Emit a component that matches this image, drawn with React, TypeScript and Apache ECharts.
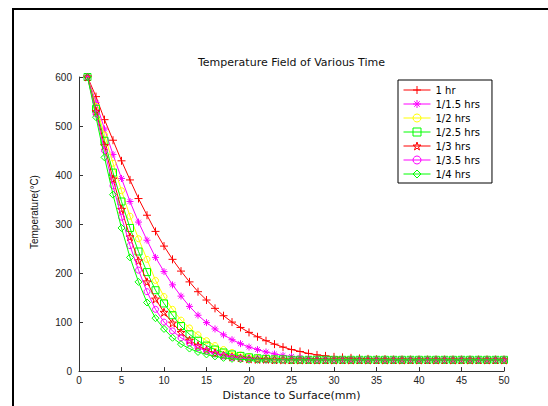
import React, { useEffect, useRef } from 'react';
import * as echarts from 'echarts';

const distance = [
  1, 2, 3, 4, 5, 6, 7, 8, 9, 10,
  11, 12, 13, 14, 15, 16, 17, 18, 19, 20,
  21, 22, 23, 24, 25, 26, 27, 28, 29, 30,
  31, 32, 33, 34, 35, 36, 37, 38, 39, 40,
  41, 42, 43, 44, 45, 46, 47, 48, 49, 50,
];

const seriesNames = ['1 hr', '1/1.5 hrs', '1/2 hrs', '1/2.5 hrs', '1/3 hrs', '1/3.5 hrs', '1/4 hrs'];

const temp1hr = [
  600, 560, 513, 471, 429, 390, 352, 318, 285, 255,
  228, 204, 182, 162, 145, 128, 113, 100, 89, 79,
  70, 62, 55, 49, 44, 40, 36, 33, 31, 29,
  28, 27, 26, 25, 24, 24, 23, 23, 23, 23,
  23, 23, 23, 23, 23, 23, 23, 23, 23, 23,
];
const temp1_5hr = [
  600, 548, 494, 442, 393, 346, 304, 267, 232, 203,
  176, 153, 132, 114, 99, 86, 74, 64, 56, 49,
  44, 39, 35, 32, 30, 28, 26, 25, 24, 24,
  23, 23, 23, 23, 23, 23, 23, 23, 23, 23,
  23, 23, 23, 23, 23, 23, 23, 23, 23, 23,
];
const temp2hr = [
  600, 540, 482, 424, 368, 316, 270, 228, 185, 152,
  126, 104, 88, 74, 62, 52, 44, 38, 33, 30,
  28, 26, 25, 24, 23, 23, 23, 23, 23, 23,
  23, 23, 23, 23, 23, 23, 23, 23, 23, 23,
  23, 23, 23, 23, 23, 23, 23, 23, 23, 23,
];
const temp2_5hr = [
  600, 535, 470, 405, 346, 292, 244, 202, 165, 138,
  114, 92, 75, 62, 52, 44, 38, 34, 31, 28,
  26, 25, 24, 24, 23, 23, 23, 23, 23, 23,
  23, 23, 23, 23, 23, 23, 23, 23, 23, 23,
  23, 23, 23, 23, 23, 23, 23, 23, 23, 23,
];
const temp3hr = [
  600, 530, 460, 392, 330, 274, 225, 182, 147, 120,
  98, 79, 63, 52, 43, 37, 32, 29, 27, 25,
  24, 24, 23, 23, 23, 23, 23, 23, 23, 23,
  23, 23, 23, 23, 23, 23, 23, 23, 23, 23,
  23, 23, 23, 23, 23, 23, 23, 23, 23, 23,
];
const temp3_5hr = [
  600, 525, 450, 378, 314, 256, 206, 162, 126, 100,
  82, 68, 57, 48, 41, 35, 31, 28, 26, 25,
  24, 23, 23, 23, 23, 23, 23, 23, 23, 23,
  23, 23, 23, 23, 23, 23, 23, 23, 23, 23,
  23, 23, 23, 23, 23, 23, 23, 23, 23, 23,
];
const temp4hr = [
  600, 518, 436, 360, 292, 232, 182, 140, 108, 86,
  68, 55, 46, 39, 34, 30, 27, 25, 24, 23,
  23, 23, 23, 23, 23, 23, 23, 23, 23, 23,
  23, 23, 23, 23, 23, 23, 23, 23, 23, 23,
  23, 23, 23, 23, 23, 23, 23, 23, 23, 23,
];

const allTemps = [temp1hr, temp1_5hr, temp2hr, temp2_5hr, temp3hr, temp3_5hr, temp4hr];

const PLUS = 'path://M0,5L10,5M5,0L5,10';
const ASTER = 'path://M0,5L10,5M5,0L5,10M1.6,1.6L8.4,8.4M8.4,1.6L1.6,8.4';
const STAR =
  'path://M5,0L6.123,3.455L9.755,3.455L6.816,5.59L7.939,9.045L5,6.91L2.061,9.045L3.184,5.59L0.245,3.455L3.877,3.455Z';

const styles = [
  { color: '#ff0000', symbol: PLUS, size: 8 },
  { color: '#ff00ff', symbol: ASTER, size: 7 },
  { color: '#ffff00', symbol: 'circle', size: 6 },
  { color: '#00ff00', symbol: 'rect', size: 7 },
  { color: '#ff0000', symbol: STAR, size: 8 },
  { color: '#ff00ff', symbol: 'circle', size: 6 },
  { color: '#00ff00', symbol: 'diamond', size: 7 },
];

const CLEAR = 'rgba(255,255,255,0)';

export default function App() {
  const ref = useRef<HTMLDivElement>(null);
  useEffect(() => {
    if (!ref.current) return;
    const chart = echarts.init(ref.current, undefined, { renderer: 'svg' });
    const series = seriesNames.map((name, i) => ({
      name,
      type: 'line',
      data: distance.map((d, j) => [d, allTemps[i][j]]),
      symbol: styles[i].symbol,
      symbolSize: styles[i].size,
      showAllSymbol: true,
      lineStyle: { color: styles[i].color, width: 1 },
      itemStyle: { color: CLEAR, borderColor: styles[i].color, borderWidth: 1 },
      emphasis: { disabled: true },
      z: 2 + i,
    }));
    chart.setOption({
      animation: false,
      backgroundColor: '#ffffff',
      grid: { left: 79, right: 44, top: 77, bottom: 30 },
      graphic: [
        {
          type: 'rect',
          shape: { x: 13, y: 9, width: 700, height: 600 },
          style: { fill: 'none', stroke: '#000', lineWidth: 2 },
          silent: true,
          z: 100,
        },
        {
          type: 'text',
          x: 291.5,
          y: 62,
          style: {
            text: 'Temperature Field of Various Time',
            fontFamily: 'DejaVu Sans',
            fontSize: 11,
            fill: '#111',
            textAlign: 'center',
            textVerticalAlign: 'middle',
          },
        },
      ],
      legend: {
        orient: 'vertical',
        left: 398,
        top: 80,
        padding: [5, 12, 4, 5],
        itemWidth: 27,
        itemHeight: 10,
        itemGap: 4,
        backgroundColor: '#fff',
        borderColor: '#000',
        borderWidth: 1,
        borderRadius: 0,
        textStyle: { fontFamily: 'DejaVu Sans', fontSize: 10, color: '#000', lineHeight: 10 },
        data: seriesNames.map((name, i) => ({
          name,
          itemStyle: { color: CLEAR, borderColor: styles[i].color, borderWidth: 1 },
          lineStyle: { color: styles[i].color, width: 1 },
        })),
      },
      xAxis: {
        type: 'value',
        min: 0,
        max: 50,
        interval: 5,
        name: 'Distance to Surface(mm)',
        nameLocation: 'middle',
        nameGap: 15,
        nameTextStyle: { fontFamily: 'DejaVu Sans', fontSize: 11, color: '#111' },
        axisLine: { show: true, onZero: false, lineStyle: { color: '#333', width: 1 } },
        axisTick: { show: true, inside: true, length: 4, lineStyle: { color: '#333' } },
        axisLabel: { color: '#222', fontSize: 10, fontFamily: 'Liberation Sans', margin: 4 },
        splitLine: { show: false },
      },
      yAxis: {
        type: 'value',
        min: 0,
        max: 600,
        interval: 100,
        name: 'Temperature(°C)',
        nameLocation: 'middle',
        nameGap: 40,
        nameTextStyle: { fontFamily: 'Liberation Sans', fontSize: 10, color: '#111', padding: [0, 0, 0, 24] },
        axisLine: { show: true, lineStyle: { color: '#333', width: 1 } },
        axisTick: { show: true, inside: true, length: 4, lineStyle: { color: '#333' } },
        axisLabel: { color: '#222', fontSize: 10, fontFamily: 'Liberation Sans', margin: 7 },
        splitLine: { show: false },
      },
      series,
    });
    return () => chart.dispose();
  }, []);
  return (
    <div
      ref={ref}
      style={{ position: 'fixed', left: 0, top: 0, width: 548, height: 406, background: '#fff' }}
    />
  );
}
